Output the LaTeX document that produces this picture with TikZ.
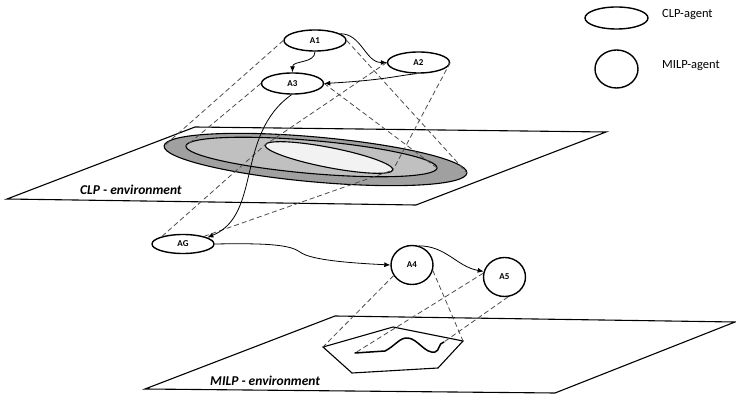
\documentclass[tikz,border=0pt]{standalone}
\usepackage{fontspec}
\setmainfont{Carlito}
\usetikzlibrary{shapes.geometric,arrows.meta}
\definecolor{ringdark}{RGB}{160,160,160}
\definecolor{ringmid}{RGB}{192,192,192}
\definecolor{ringlight}{RGB}{242,242,242}
\begin{document}
\begin{tikzpicture}[x=1pt,y=-1pt,
  agent/.style={draw, ellipse, line width=1.4pt, fill=white, inner sep=0pt,
    font=\bfseries\fontsize{9}{9}\selectfont},
  clpagent/.style={agent, minimum width=62pt, minimum height=21pt},
  milpagent/.style={agent, minimum width=42pt, minimum height=39pt},
  plane/.style={draw, line width=1.1pt, fill=white, line join=miter},
  region/.style={draw, line width=1.1pt},
  proj/.style={draw=black!70, line width=0.8pt, dash pattern=on 5pt off 3pt},
  flow/.style={draw, line width=0.8pt, -{Latex[length=6pt,width=5pt]}},
  envlabel/.style={anchor=base west, inner sep=0pt,
    font=\bfseries\itshape\fontsize{13.5}{14}\selectfont},
  legendlabel/.style={anchor=base west, inner sep=0pt,
    font=\fontsize{12.5}{13}\selectfont}
]
\useasboundingbox (0,0) rectangle (736,395);

% CLP environment plane with its nested regions
\path[plane] (7,199) -- (195,127) -- (606,132) -- (416,205) -- cycle;
\node[envlabel] (clpenv) at (80,195) {CLP - environment};
\filldraw[region, fill=ringdark, rotate around={-5.1:(315.5,159.5)}]
  (315.5,159.5) ellipse [x radius=152, y radius=22.5];
\filldraw[region, fill=ringmid, rotate around={-5:(311.5,157)}]
  (311.5,157) ellipse [x radius=126, y radius=16.5];
\filldraw[region, fill=ringlight, rotate around={-11:(329,157.5)}]
  (329,157.5) ellipse [x radius=65, y radius=10];
\coordinate (outerL) at (164,146);
\coordinate (outerR) at (467,173);
\coordinate (midL) at (186,146);
\coordinate (midR) at (437,168);
\coordinate (innerL) at (265,145);
\coordinate (innerR) at (393,170);

% MILP environment plane with its polytope and path
\path[plane] (145,389) -- (335,316) -- (735,322) -- (555,393) -- cycle;
\node[envlabel] (milpenv) at (210,385) {MILP - environment};
\draw[region] (323,347) coordinate (polyL) -- (393,327) -- (463,341) coordinate (polyR)
  -- (438,368) -- (352,373) -- cycle;
\draw[line width=1.5pt, line cap=round, line join=round]
  (355,353) coordinate (pathS) -- (385,351)
  .. controls (395,346) and (400,337) .. (408,338)
  .. controls (418,339) and (425,354) .. (435,352)
  .. controls (440,351) and (438,343) .. (444,342) coordinate (pathE);

% agents
\node[clpagent] (A1) at (315,40.5) {A1};
\node[clpagent] (A2) at (418.5,62.5) {A2};
\node[clpagent] (A3) at (292.5,83.5) {A3};
\node[clpagent, minimum height=19pt] (AG) at (183,244) {AG};
\node[milpagent] (A4) at (412,265) {A4};
\node[milpagent] (A5) at (504.5,277) {A5};

% projections of the agents onto their environments
\draw[proj] (A1.west) -- (outerL);
\draw[proj] (A1.east) -- (outerR);
\draw[proj] (A3.west) -- (midL);
\draw[proj] (A3.east) -- (midR);
\draw[proj] (A2.west) -- (innerL);
\draw[proj] (A2.east) -- (innerR);
\draw[proj] (AG.160) -- (innerL);
\draw[proj] (AG.20) -- (innerR);
\draw[proj] (A4.210) -- (polyL);
\draw[proj] (A4.-15) -- (polyR);
\draw[proj] (A5.170) -- (pathS);
\draw[proj] (A5.-80) -- (pathE);

% message flow between agents
\draw[flow] (A1.south) to[out=-90, in=90] (A3.north);
\draw[flow] (A1.15) to[out=0, in=180] (A2.west);
\draw[flow] (A2.-100) .. controls (395,76) and (385,80) .. (A3.east);
\draw[flow] (A3.-95) .. controls (235,135) and (262,215) .. (AG.15);
\draw[flow] (AG.east) .. controls (270,243) and (290,245) .. (300,252)
  .. controls (310,260) and (350,263) .. (A4.west);
\draw[flow] (A4.70) to[out=0, in=170] (A5.165);

% legend
\node[clpagent, minimum width=63pt, minimum height=22pt] (legclp) at (616.5,18) {};
\node[milpagent, minimum width=43pt, minimum height=38pt] (legmilp) at (616.5,69) {};
\node[legendlabel] (legclptext) at (662,17.5) {CLP-agent};
\node[legendlabel] (legmilptext) at (662,69) {MILP-agent};
\end{tikzpicture}
\end{document}
